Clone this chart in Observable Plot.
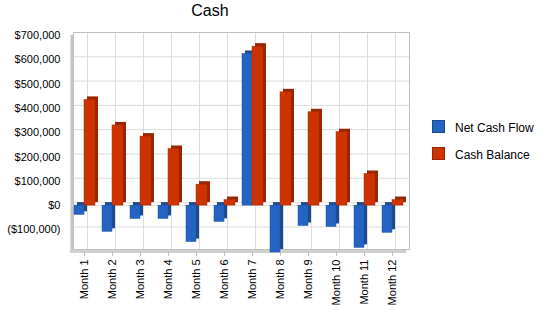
<!DOCTYPE html>
<html><head><meta charset="utf-8">
<script src="https://cdn.jsdelivr.net/npm/d3@7"></script>
<script src="https://cdn.jsdelivr.net/npm/@observablehq/plot@0.6"></script>
<style>
body{margin:0;background:#fff;font-family:"Liberation Sans",Arial,sans-serif;}
#wrap{position:relative;width:550px;height:318px;}
#title{position:absolute;left:0;width:420px;top:2px;text-align:center;font-size:16px;color:#000;}
.leg{position:absolute;left:432px;font-size:12px;color:#000;}
.leg span{display:inline-block;width:11px;height:11px;vertical-align:-1px;margin-right:10px;border:1px solid;}
</style></head>
<body><div id="wrap"><div id="title">Cash</div>
<div class="leg" style="top:120px"><span style="background:#2563C0;border-color:#1B4A91"></span>Net Cash Flow</div>
<div class="leg" style="top:147px"><span style="background:#CC3300;border-color:#992600"></span>Cash Balance</div>
</div>
<script>
const months = ["Month 1","Month 2","Month 3","Month 4","Month 5","Month 6","Month 7","Month 8","Month 9","Month 10","Month 11","Month 12"];
const netCashFlow = [-38000,-108000,-55000,-55000,-150000,-67000,624000,-193000,-84000,-88000,-174000,-112000];
const cashBalance = [435000,330000,284000,233000,86000,23000,654000,466000,384000,302000,130000,23000];
const yTicks = [-100000,0,100000,200000,300000,400000,500000,600000,700000];

const net = months.map((m,i)=>({month:m,value:netCashFlow[i]}));
const bal = months.map((m,i)=>({month:m,value:cashBalance[i]}));
const fmt = v => v<0 ? "($"+d3.format(",")(-v)+")" : "$"+d3.format(",")(v);

const chart = Plot.plot({
  width:550, height:318,
  marginTop:35, marginBottom:66, marginLeft:70, marginRight:144,
  style:{fontFamily:"'Liberation Sans', Arial, sans-serif", fontSize:"11px", color:"#000", background:"transparent"},
  x:{domain:months, padding:0, label:null},
  y:{domain:[-193000,700000], label:null},
  marks:[
    // back wall gridlines (offset for depth)
    Plot.gridY(yTicks, {stroke:"#dcdcdc", strokeOpacity:1, dx:3, dy:-3}),
    Plot.gridX(months, {stroke:"#dcdcdc", strokeOpacity:1, dx:3, dy:-3}),
    Plot.frame({stroke:"#c0c0c0", dx:3, dy:-3}),
    // left wall and floor
    Plot.ruleX([months[0]], {stroke:"#c4c4c4", strokeWidth:3, dx:-12.5, y1:-193000, y2:700000}),
    Plot.ruleY([-193000], {stroke:"#cfcfcf", strokeWidth:3, dy:-1}),
    Plot.ruleY([0], {stroke:"#d8d8d8", strokeWidth:1}),
    // bar depth faces
    Plot.barY(net, {x:"month", y:"value", fill:"#1B4A91", insetLeft:4, insetRight:14, dx:3, dy:-3}),
    Plot.barY(net, {x:"month", y:"value", fill:"#2563C0", stroke:"#1f55a8", strokeWidth:0.5, insetLeft:4, insetRight:14}),
    Plot.barY(bal, {x:"month", y:"value", fill:"#992600", insetLeft:14, insetRight:3, dx:3, dy:-3}),
    Plot.barY(bal, {x:"month", y:"value", fill:"#CC3300", stroke:"#b02c00", strokeWidth:0.5, insetLeft:14, insetRight:3}),
    Plot.axisX({tickRotate:-90, tickSize:4, tickPadding:3, stroke:"#c0c0c0", label:null}),
    Plot.axisY({ticks:yTicks, tickFormat:fmt, tickSize:0, tickPadding:10, label:null})
  ]
});
document.getElementById("wrap").appendChild(chart);
chart.style.position="absolute"; chart.style.left="0"; chart.style.top="0";
</script></body></html>
